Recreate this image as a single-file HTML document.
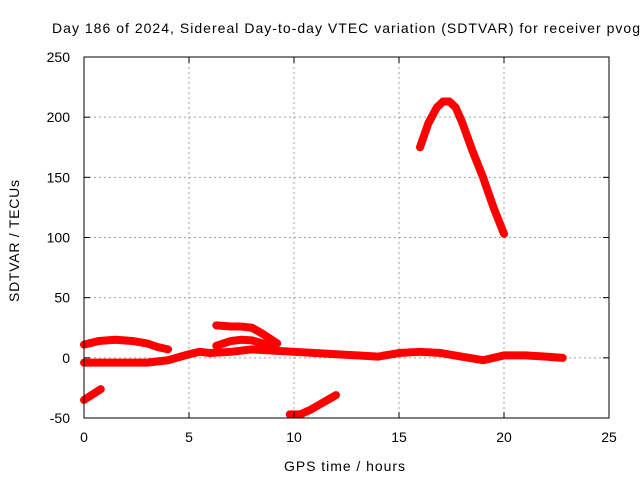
<!DOCTYPE html>
<html><head><meta charset="utf-8"><style>
body{margin:0;background:#fff}
svg{display:block;font-family:"Liberation Sans",sans-serif;font-size:14px}
</style></head><body>
<svg id="c" width="640" height="480">
<text x="52" y="33" textLength="588" lengthAdjust="spacing">Day 186 of 2024, Sidereal Day-to-day VTEC variation (SDTVAR) for receiver pvog</text>
<text x="284" y="471" textLength="121" lengthAdjust="spacing">GPS time / hours</text>
<text transform="translate(19,302) rotate(-90)" textLength="122" lengthAdjust="spacing">SDTVAR / TECUs</text>
<g id="grid"></g><g id="series"></g><g id="axes"></g>
</svg>
<script>
const xTicks=[0,5,10,15,20,25];
const yTicks=[-50,0,50,100,150,200,250];
const segTimes=[
[0,0.7,1.5,2.3,3,3.5,4],
[0,1,2,3,4,5,5.5,6,7,8,9,10,11,12,13,14,15,16,17,18,19,20,21,22,22.8],
[6.3,7,7.5,8,8.5,9.2],
[6.3,7,7.5,8,8.5,9],
[0,0.8],
[9.8,10.3,10.8,11.3,12],
[16,16.4,16.8,17.1,17.4,17.7,18,18.5,19,19.5,20]];
const segValues=[
[11,14,15,14,12,9,7],
[-4,-4,-4,-4,-2,3,5,4,5,7,6,5,4,3,2,1,4,5,4,1,-2,2,2,1,0],
[27,26,26,25,20,12],
[10,14,15,14.5,12,8],
[-35,-26],
[-47,-47,-43,-38,-31],
[175,195,208,213,213,208,196,172,150,125,103]];
const X0=84,X1=609,Y0=418,Y1=57;
const xs=t=>X0+(t-0)/25*(X1-X0);
const ys=v=>Y0-(v+50)/300*(Y0-Y1);
const NS="http://www.w3.org/2000/svg";
function mk(tag,attrs,parent){const e=document.createElementNS(NS,tag);for(const k in attrs)e.setAttribute(k,attrs[k]);parent.appendChild(e);return e;}
const grid=document.getElementById('grid'),axes=document.getElementById('axes'),ser=document.getElementById('series');
xTicks.forEach(t=>{const x=xs(t);
 if(t>0&&t<25){const l=mk('line',{x1:x,x2:x,y1:Y1,y2:Y0,stroke:'#a0a0a0','stroke-dasharray':'2,3'},grid);
 
 }
 mk('line',{x1:x,x2:x,y1:Y0,y2:Y0-6,stroke:'#000'},axes);
 mk('line',{x1:x,x2:x,y1:Y1,y2:Y1+6,stroke:'#000'},axes);
 const tx=mk('text',{x:x,y:Y0+24,'text-anchor':'middle'},axes);tx.textContent=t;
 
 });
yTicks.forEach(v=>{const y=ys(v);
 if(v>-50&&v<250){const l=mk('line',{x1:X0,x2:X1,y1:y,y2:y,stroke:'#a0a0a0','stroke-dasharray':'2,3'},grid);
 
 }
 mk('line',{x1:X0,x2:X0+6,y1:y,y2:y,stroke:'#000'},axes);
 mk('line',{x1:X1,x2:X1-6,y1:y,y2:y,stroke:'#000'},axes);
 const tx=mk('text',{x:X0-14,y:y+5,'text-anchor':'end'},axes);tx.textContent=v;
 
 });
const fr=mk('rect',{x:X0,y:Y1,width:X1-X0,height:Y0-Y1,fill:'none',stroke:'#000'},axes);


segTimes.forEach((ts,i)=>{const pts=ts.map((t,j)=>xs(t)+','+ys(segValues[i][j])).join(' ');
 const p=mk('polyline',{points:pts,fill:'none',stroke:'#f00','stroke-width':8,'stroke-linejoin':'round','stroke-linecap':'round'},ser);
 
 });
</script>
</body></html>
